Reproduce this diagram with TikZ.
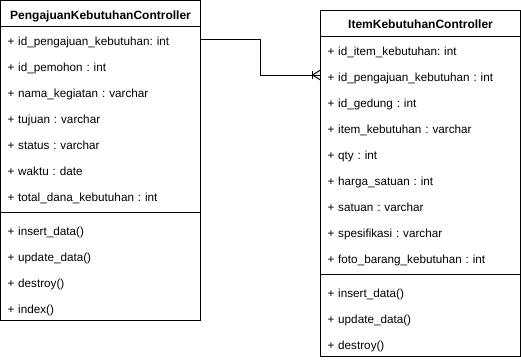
\documentclass[tikz,border=0pt]{standalone}
\usepackage{fontspec}
\setmainfont{Liberation Sans}
\frenchspacing
\usetikzlibrary{positioning}

\begin{document}
\begin{tikzpicture}[x=1pt, y=-1pt, node distance=0pt, line width=1pt, outer sep=0pt,
  head/.style={draw, font=\fontsize{12}{14}\selectfont\bfseries, minimum width=200pt, minimum height=26pt, inner sep=0pt, text height=13.6pt, text depth=2pt},
  row/.style={font=\fontsize{11.7}{14}\selectfont, text width=186pt, align=left, inner xsep=7pt, inner ysep=0pt, minimum height=26pt, text height=14pt, text depth=2pt},
  gap/.style={minimum width=200pt, minimum height=8pt, inner sep=0pt}]
\useasboundingbox (0,0) rectangle (521,360);

% class PengajuanKebutuhanController
\node[head, anchor=north west] (pk) at (0.5,0.5) {PengajuanKebutuhanController};
\node[row, below=of pk] (pk1) {+ id\_pengajuan\_kebutuhan: int};
\node[row, below=of pk1] (pk2) {+ id\_pemohon : int};
\node[row, below=of pk2] (pk3) {+ nama\_kegiatan : varchar};
\node[row, below=of pk3] (pk4) {+ tujuan : varchar};
\node[row, below=of pk4] (pk5) {+ status : varchar};
\node[row, below=of pk5] (pk6) {+ waktu : date};
\node[row, below=of pk6] (pk7) {+ total\_dana\_kebutuhan : int};
\node[gap, below=of pk7] (pksep) {};
\node[row, below=of pksep] (pkm1) {+ insert\_data()};
\node[row, below=of pkm1] (pkm2) {+ update\_data()};
\node[row, below=of pkm2] (pkm3) {+ destroy()};
\node[row, below=of pkm3] (pkm4) {+ index()};
\draw (pk.north west) rectangle (pkm4.south east);
\draw (pksep.west) -- (pksep.east);

% class ItemKebutuhanController
\node[head, anchor=north west] (ik) at (320.5,10) {ItemKebutuhanController};
\node[row, below=of ik] (ik1) {+ id\_item\_kebutuhan: int};
\node[row, below=of ik1] (ik2) {+ id\_pengajuan\_kebutuhan : int};
\node[row, below=of ik2] (ik3) {+ id\_gedung : int};
\node[row, below=of ik3] (ik4) {+ item\_kebutuhan : varchar};
\node[row, below=of ik4] (ik5) {+ qty : int};
\node[row, below=of ik5] (ik6) {+ harga\_satuan : int};
\node[row, below=of ik6] (ik7) {+ satuan : varchar};
\node[row, below=of ik7] (ik8) {+ spesifikasi : varchar};
\node[row, below=of ik8] (ik9) {+ foto\_barang\_kebutuhan : int};
\node[gap, below=of ik9] (iksep) {};
\node[row, below=of iksep] (ikm1) {+ insert\_data()};
\node[row, below=of ikm1] (ikm2) {+ update\_data()};
\node[row, below=of ikm2] (ikm3) {+ destroy()};
\draw (ik.north west) rectangle (ikm3.south east);
\draw (iksep.west) -- (iksep.east);

% one-to-many link with crow's foot
\coordinate (bend) at (260.5,0);
\draw (pk1.east) -| (bend |- ik2.west) -- (ik2.west);
\draw ([xshift=-8pt]ik2.west) ++(0,-4) -- ++(0,8);
\draw ([xshift=-8pt]ik2.west) -- ([yshift=-5pt]ik2.west);
\draw ([xshift=-8pt]ik2.west) -- ([yshift=5pt]ik2.west);
\end{tikzpicture}
\end{document}
